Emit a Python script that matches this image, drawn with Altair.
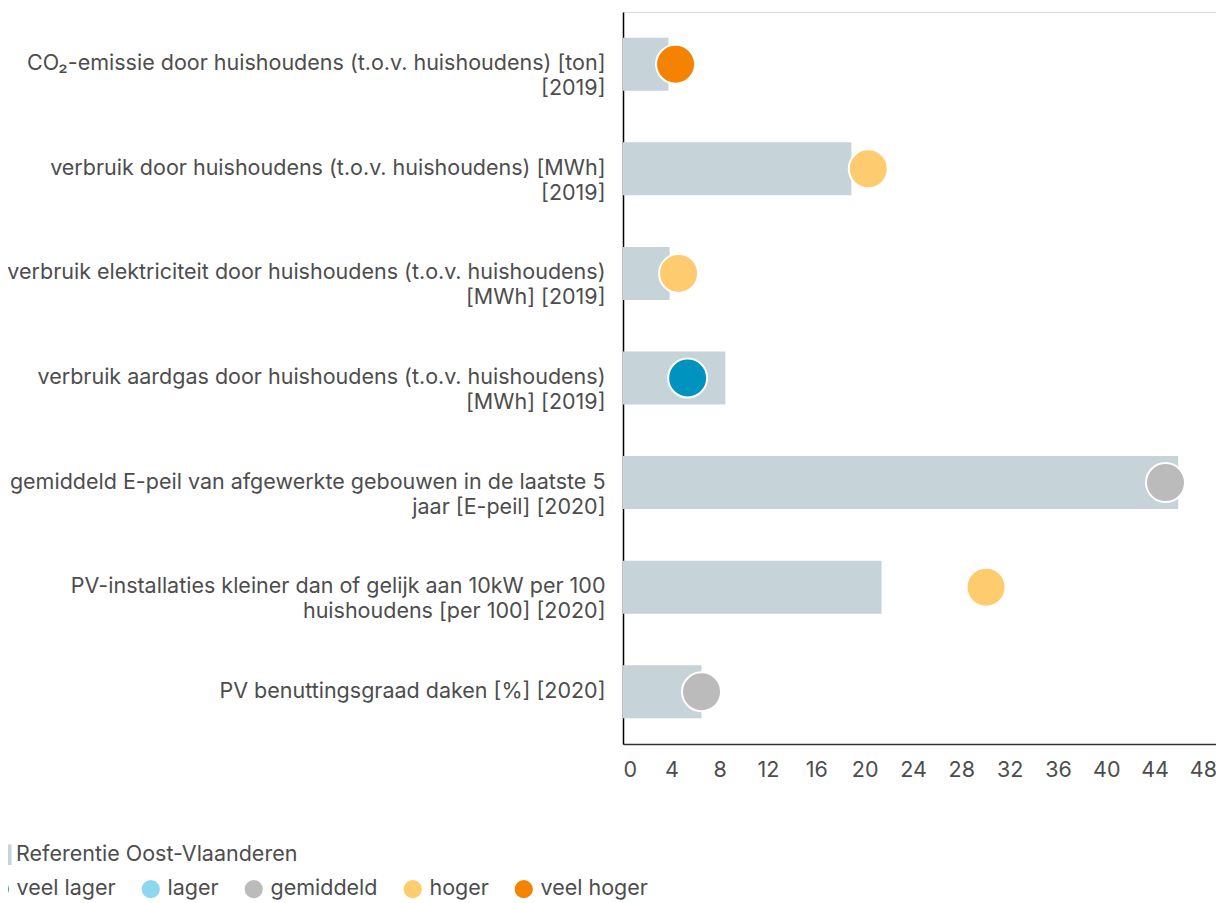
import altair as alt
import pandas as pd

categories = [
    "CO₂-emissie door huishoudens (t.o.v. huishoudens) [ton]|[2019]",
    "verbruik door huishoudens (t.o.v. huishoudens) [MWh]|[2019]",
    "verbruik elektriciteit door huishoudens (t.o.v. huishoudens)|[MWh] [2019]",
    "verbruik aardgas door huishoudens (t.o.v. huishoudens)|[MWh] [2019]",
    "gemiddeld E-peil van afgewerkte gebouwen in de laatste 5|jaar [E-peil] [2020]",
    "PV-installaties kleiner dan of gelijk aan 10kW per 100|huishoudens [per 100] [2020]",
    "PV benuttingsgraad daken [%] [2020]",
]
reference_values = [3.76, 18.9, 3.86, 8.47, 45.95, 21.4, 6.5]
municipality_values = [4.35, 20.3, 4.6, 5.35, 44.9, 30.05, 6.5]
classes = ["veel hoger", "hoger", "hoger", "veel lager", "gemiddeld", "hoger", "gemiddeld"]
class_order = ["veel lager", "lager", "gemiddeld", "hoger", "veel hoger"]
class_colors = ["#0093bf", "#8dd8ef", "#bbbbbb", "#ffcb6f", "#f58300"]
ref_label = "Referentie Oost-Vlaanderen"
ref_color = "#c6d3d9"
x_ticks = list(range(0, 49, 4))
x_max = 49.08

FONT = "Inter"
FS = 21.5
TXT = "#4d4d4d"

df = pd.DataFrame({
    "cat": categories,
    "ref": reference_values,
    "val": municipality_values,
    "klasse": classes,
    "reflabel": [ref_label] * len(categories),
})

y_enc = alt.Y(
    "cat:N",
    sort=categories,
    scale=alt.Scale(paddingInner=0.49, paddingOuter=0.245),
    axis=alt.Axis(
        title=None,
        labelExpr="split(datum.label, '|')",
        labelLimit=800,
        labelFont=FONT,
        labelFontSize=FS,
        labelColor=TXT,
        labelLineHeight=25,
        labelPadding=18,
        labelBaseline="middle",
        ticks=False,
        domainColor="#000000",
        domainWidth=1.5,
        grid=False,
    ),
)

x_scale = alt.Scale(domain=[0, x_max], nice=False, zero=True)

bars = alt.Chart(df).mark_bar(size=53).encode(
    x=alt.X(
        "ref:Q",
        scale=x_scale,
        axis=alt.Axis(
            title=None,
            values=x_ticks,
            grid=False,
            ticks=False,
            domainColor="#333333",
            domainWidth=1.5,
            labelFont=FONT,
            labelFontSize=FS,
            labelColor=TXT,
            labelPadding=15,
        ),
    ),
    y=y_enc,
    fill=alt.Fill(
        "reflabel:N",
        scale=alt.Scale(domain=[ref_label], range=[ref_color]),
        legend=alt.Legend(
            title=None,
            orient="none",
            legendX=-632.5,
            legendY=832,
            symbolType="square",
            symbolSize=420,
            symbolStrokeWidth=0,
            labelOffset=4,
            labelLimit=500,
            labelFont=FONT,
            labelFontSize=FS,
            labelColor=TXT,
            padding=0,
        ),
    ),
)

points = alt.Chart(df).mark_circle(size=1520, opacity=1, stroke="white", strokeWidth=2).encode(
    x=alt.X("val:Q", scale=x_scale),
    y=alt.Y("cat:N", sort=categories),
    color=alt.Color(
        "klasse:N",
        scale=alt.Scale(domain=class_order, range=class_colors),
        legend=alt.Legend(
            title=None,
            orient="none",
            legendX=-634,
            legendY=866,
            direction="horizontal",
            columns=5,
            columnPadding=24,
            symbolType="circle",
            symbolSize=330,
            symbolStrokeWidth=0,
            symbolOpacity=1,
            labelOffset=6,
            labelLimit=300,
            labelFont=FONT,
            labelFontSize=FS,
            labelColor=TXT,
            padding=0,
        ),
    ),
)

chart = (
    alt.layer(bars, points)
    .resolve_scale(color="independent", fill="independent")
    .properties(
        width=593,
        height=732,
        autosize=alt.AutoSizeParams(type="none"),
        padding={"left": 615, "top": 4, "right": 0, "bottom": 157},
    )
    .configure_view(stroke=None)
    .configure(font=FONT)
)

chart.save("out.html", embed_options={"renderer": "svg", "actions": False})
